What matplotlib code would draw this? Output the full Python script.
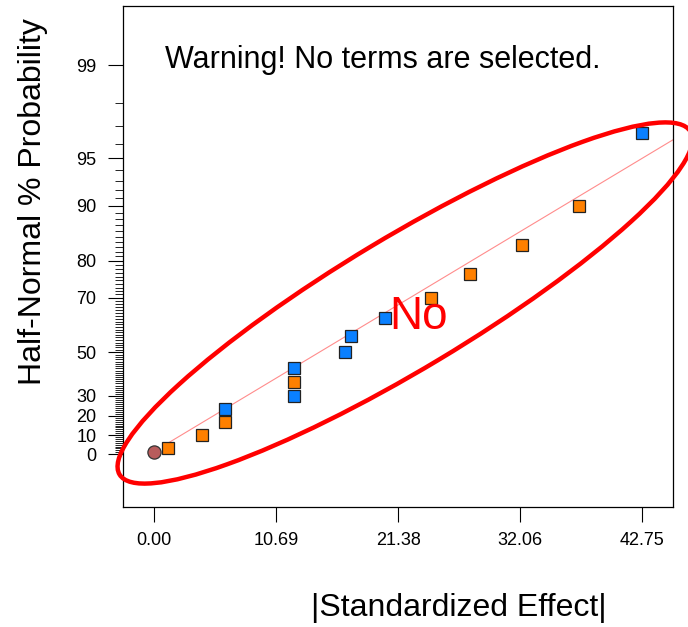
import numpy as np
import matplotlib
matplotlib.use('Agg')
import matplotlib.pyplot as plt
from matplotlib.patches import Ellipse
from statistics import NormalDist

plt.rcParams['font.family'] = ['Liberation Sans', 'DejaVu Sans']

# effects (|standardized effect|, half-normal % probability)
effects = [1.20, 4.21, 6.22, 6.22, 12.24, 12.24, 12.24, 16.71, 17.21, 20.21,
           24.22, 27.66, 32.19, 37.19, 42.75]
probs = [3.33, 10.0, 16.67, 23.33, 30.0, 36.67, 43.33, 50.0, 56.67, 63.33,
         70.0, 76.67, 83.33, 90.0, 96.67]
signs = ['pos', 'pos', 'pos', 'neg', 'neg', 'pos', 'neg', 'neg', 'neg', 'neg',
         'pos', 'pos', 'pos', 'pos', 'neg']
error_x = [0.0]
error_p = [1.0]

# fitted line ends
line_x = [1.20, 48.0]
line_p = [5.8, 97.2]

xticks = [0.00, 10.69, 21.38, 32.06, 42.75]
yticks = [0, 10, 20, 30, 50, 70, 80, 90, 95, 99]

nd = NormalDist()
_ppf = np.vectorize(nd.inv_cdf)
_cdf = np.vectorize(nd.cdf)


def fwd(p):
    q = np.clip(0.5 + np.asarray(p, dtype=float) / 200.0, 1e-9, 1 - 1e-9)
    return _ppf(q)


def inv(z):
    return (_cdf(np.asarray(z, dtype=float)) - 0.5) * 200.0


fig = plt.figure(figsize=(6.88, 6.27), dpi=100)
ax = fig.add_axes([123 / 688, 1 - 507 / 627, 550 / 688, 501 / 627])
ax.set_yscale('function', functions=(fwd, inv))

ax.plot(line_x, line_p, color='#FF8C8C', lw=0.8, zorder=2)

cols = {'pos': '#FF8000', 'neg': '#0A80FF'}
for s in ['pos', 'neg']:
    xs = [e for e, g in zip(effects, signs) if g == s]
    ps = [p for p, g in zip(probs, signs) if g == s]
    ax.plot(xs, ps, 's', ms=8, mfc=cols[s], mec='#222222', mew=0.9, zorder=3)
ax.plot(error_x, error_p, 'o', ms=9.5, mfc='#B85C5C', mec='#333333', mew=0.9, zorder=3)

ax.set_xlim(-2.74, 45.45)
ax.set_ylim(-27.4, 99.7)
ax.set_xticks(xticks)
ax.set_xticklabels(['%.2f' % t for t in xticks])
ax.set_yticks(yticks)
ax.set_yticklabels([str(t) for t in yticks])
minor = [p for p in range(1, 99) if p not in yticks]
ax.set_yticks(minor, minor=True)
ax.tick_params(axis='both', which='major', length=11, width=0.8, labelsize=13, pad=7)
ax.tick_params(axis='y', which='minor', length=6, width=0.6)
ax.tick_params(axis='y', pad=8)
for sp in ax.spines.values():
    sp.set_linewidth(0.9)

ax.text(42 / 550, (507 - 68) / 501, 'Warning! No terms are selected.', transform=ax.transAxes,
        fontsize=22, va='baseline', ha='left')

fig.text(0.048, 0.678, 'Half-Normal % Probability', rotation=90, fontsize=23,
         ha='center', va='center')
fig.text(0.667, 0.030, '|Standardized Effect|', fontsize=23, ha='center', va='center')

# red annotation overlay in pixel units
ov = fig.add_axes([0, 0, 1, 1], zorder=5)
ov.set_xlim(0, 688)
ov.set_ylim(627, 0)
ov.axis('off')
ov.patch.set_alpha(0)
ov.add_patch(Ellipse((405, 303), 2 * 333, 2 * 66, angle=-31.0, fill=False,
                     edgecolor='#FF0000', lw=3.2))
ov.text(389, 329, 'No', color='#FF0000', fontsize=33, ha='left', va='baseline')

fig.savefig('out.png', dpi=100)
